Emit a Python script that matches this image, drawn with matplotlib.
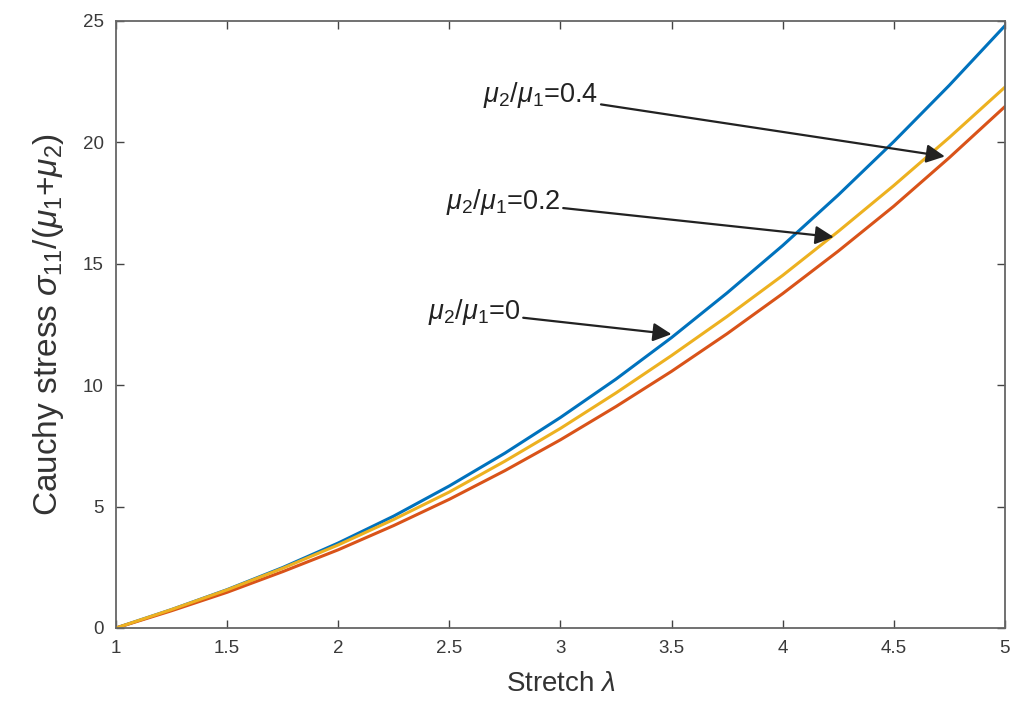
import matplotlib
matplotlib.use("Agg")
import matplotlib.pyplot as plt

plt.rcParams['font.family'] = ['Liberation Sans', 'DejaVu Sans']
plt.rcParams['mathtext.fontset'] = 'custom'
plt.rcParams['mathtext.rm'] = 'Liberation Sans'
plt.rcParams['mathtext.it'] = 'Liberation Sans:italic'
plt.rcParams['mathtext.bf'] = 'Liberation Sans:bold'

stretch = [1.0, 1.25, 1.5, 1.75, 2.0, 2.25, 2.5, 2.75, 3.0, 3.25, 3.5, 3.75, 4.0, 4.25, 4.5, 4.75, 5.0]
stress_blue = [0, 0.76, 1.58, 2.49, 3.5, 4.61, 5.85, 7.2, 8.67, 10.25, 11.96, 13.8, 15.75, 17.83, 20.03, 22.35, 24.8]
stress_red = [0, 0.71, 1.47, 2.32, 3.22, 4.22, 5.3, 6.48, 7.75, 9.12, 10.57, 12.12, 13.77, 15.52, 17.37, 19.37, 21.47]
stress_yellow = [0, 0.76, 1.57, 2.46, 3.42, 4.47, 5.6, 6.87, 8.22, 9.68, 11.22, 12.83, 14.52, 16.33, 18.22, 20.2, 22.27]

x_ticks = [1, 1.5, 2, 2.5, 3, 3.5, 4, 4.5, 5]
x_tick_labels = ['1', '1.5', '2', '2.5', '3', '3.5', '4', '4.5', '5']
y_ticks = [0, 5, 10, 15, 20, 25]
y_tick_labels = ['0', '5', '10', '15', '20', '25']

annot_labels = [r'$\mu_2/\mu_1$=0.4', r'$\mu_2/\mu_1$=0.2', r'$\mu_2/\mu_1$=0']
annot_text_xy = [(3.17, 21.94), (3.0, 17.56), (2.82, 13.0)]
annot_head_xy = [(4.73, 19.42), (4.23, 16.1), (3.5, 12.1)]

fig = plt.figure(figsize=(10.15, 7.06), dpi=100)
ax = fig.add_axes([0.1143, 0.1105, 0.8757, 0.8598])

ax.plot(stretch, stress_blue, color='#0072BD', lw=2.2)
ax.plot(stretch, stress_red, color='#D95319', lw=2.2)
ax.plot(stretch, stress_yellow, color='#EDB120', lw=2.2)

ax.set_xlim(1, 5)
ax.set_ylim(0, 25)
ax.set_xticks(x_ticks)
ax.set_xticklabels(x_tick_labels)
ax.set_yticks(y_ticks)
ax.set_yticklabels(y_tick_labels)
ax.tick_params(direction='in', top=True, right=True, length=6, width=1.0,
               color='#444444', labelcolor='#3a3a3a', labelsize=13.5, pad=9)
for s in ax.spines.values():
    s.set_color('#666666')
    s.set_linewidth(1.3)

ax.set_xlabel(r'Stretch $\lambda$', fontsize=20, color='#333333', labelpad=10)
ax.set_ylabel(r'Cauchy stress $\sigma_{11}/(\mu_1$+$\mu_2)$', fontsize=24, color='#333333', labelpad=12)

for lab, txy, hxy in zip(annot_labels, annot_text_xy, annot_head_xy):
    ax.annotate(lab, xy=hxy, xytext=txy, ha='right', va='center',
                fontsize=19.5, color='#222222',
                arrowprops=dict(arrowstyle='-|>', color='#222222', lw=1.6,
                                mutation_scale=28, shrinkA=0, shrinkB=0))

fig.savefig('out.png', dpi=100)
